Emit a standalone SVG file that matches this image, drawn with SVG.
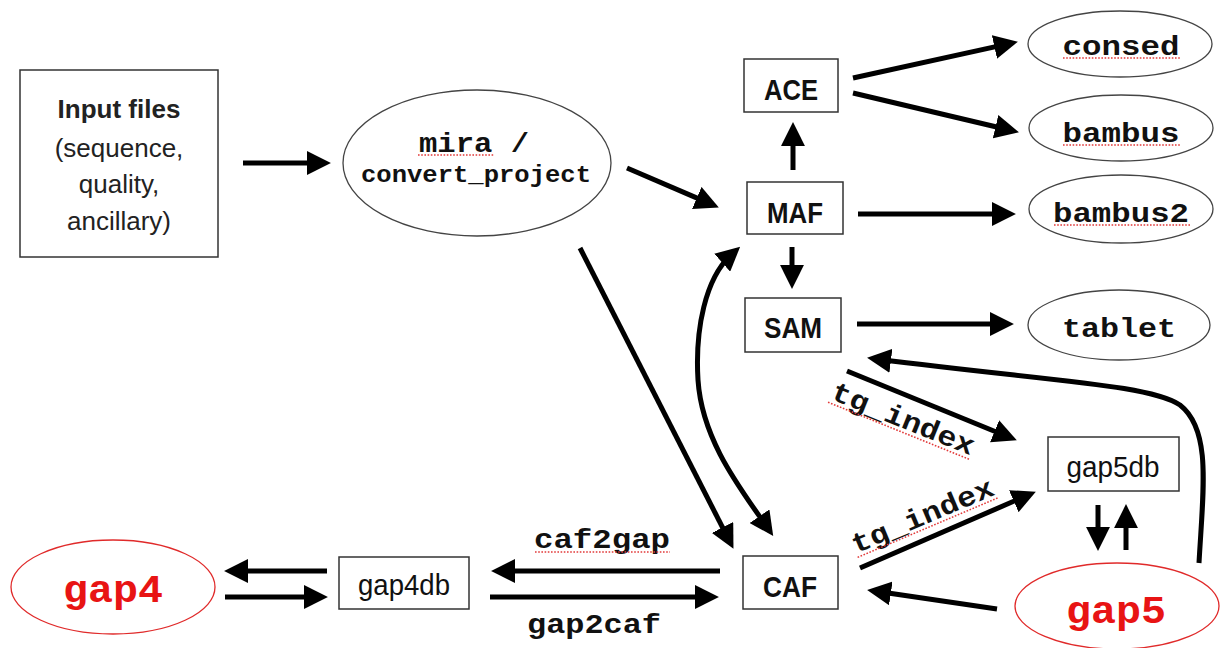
<svg xmlns="http://www.w3.org/2000/svg" width="1224" height="648" viewBox="0 0 1224 648">
<style>
.box{fill:#fff;stroke:#333;stroke-width:1.5}
.ell{fill:#fff;stroke:#444;stroke-width:1.3}
.ellr{fill:#fff;stroke:#e02a2a;stroke-width:1.3}
.lbl{font-family:"Liberation Sans",Arial,sans-serif;font-weight:bold;font-size:30px;fill:#111;text-anchor:middle}
.db{font-family:"Liberation Sans",Arial,sans-serif;font-size:29px;fill:#111;text-anchor:middle}
.inp{font-family:"Liberation Sans",Arial,sans-serif;font-size:26px;fill:#222;text-anchor:middle}
.mono{font-family:"Liberation Mono","Courier New",monospace;font-weight:bold;font-size:28px;fill:#111;text-anchor:middle}
.mira{font-size:27px}
.cp{font-size:23px}
.big{font-family:"Liberation Mono","Courier New",monospace;font-weight:bold;font-size:39px;fill:#e81414;text-anchor:middle}
.sq{stroke:#e23a3a;stroke-width:1.6;stroke-dasharray:1.6 1.6;fill:none}
.arr{stroke:#000;stroke-width:5;fill:none;marker-end:url(#ah)}
.arr2{stroke:#000;stroke-width:5;fill:none;marker-end:url(#ah);marker-start:url(#ah)}
</style>
<defs>
<marker id="ah" markerUnits="userSpaceOnUse" markerWidth="24" markerHeight="24" viewBox="0 0 22 22" refX="12" refY="11" orient="auto-start-reverse">
<path d="M0,0 L22,11 L0,22 z" fill="#000"/>
</marker>
</defs>
<rect width="1224" height="648" fill="#fff"/>

<g id="input">
<rect class="box" x="20" y="70" width="198" height="187"/>
<text class="inp" x="119" y="118" font-weight="bold">Input files</text>
<text class="inp" x="119" y="157">(sequence,</text>
<text class="inp" x="119" y="193">quality,</text>
<text class="inp" x="119" y="230">ancillary)</text>
</g>

<g id="mira">
<ellipse class="ell" cx="477" cy="163" rx="134" ry="73"/>
<text class="mono mira" x="474" y="152" textLength="110" lengthAdjust="spacingAndGlyphs">mira /</text>
<line class="sq" x1="418" y1="155" x2="494" y2="155"/>
<text class="mono cp" x="476" y="182" textLength="230" lengthAdjust="spacingAndGlyphs">convert_project</text>
</g>

<g id="ace"><rect class="box" x="744" y="59" width="94" height="53"/><text class="lbl" x="791" y="100" textLength="54" lengthAdjust="spacingAndGlyphs">ACE</text></g>
<g id="maf"><rect class="box" x="747" y="182" width="96" height="52"/><text class="lbl" x="795" y="223" textLength="56" lengthAdjust="spacingAndGlyphs">MAF</text></g>
<g id="sam"><rect class="box" x="745" y="298" width="96" height="54"/><text class="lbl" x="793" y="338" textLength="58" lengthAdjust="spacingAndGlyphs">SAM</text></g>
<g id="caf"><rect class="box" x="743" y="556" width="95" height="53"/><text class="lbl" x="790" y="597" textLength="54" lengthAdjust="spacingAndGlyphs">CAF</text></g>

<g id="consed"><ellipse class="ell" cx="1120" cy="44" rx="92" ry="33"/><text class="mono" x="1121" y="55" textLength="117" lengthAdjust="spacingAndGlyphs">consed</text><line class="sq" x1="1063" y1="58" x2="1180" y2="58"/></g>
<g id="bambus"><ellipse class="ell" cx="1121" cy="128" rx="92" ry="33"/><text class="mono" x="1121" y="142" textLength="117" lengthAdjust="spacingAndGlyphs">bambus</text><line class="sq" x1="1063" y1="145" x2="1180" y2="145"/></g>
<g id="bambus2"><ellipse class="ell" cx="1121" cy="209" rx="92" ry="34"/><text class="mono" x="1121" y="222" textLength="136" lengthAdjust="spacingAndGlyphs">bambus2</text><line class="sq" x1="1054" y1="225" x2="1190" y2="225"/></g>
<g id="tablet"><ellipse class="ell" cx="1119" cy="325" rx="91" ry="35"/><text class="mono" x="1119" y="337" textLength="114" lengthAdjust="spacingAndGlyphs">tablet</text></g>

<g id="gap5db"><rect class="box" x="1048" y="437" width="131" height="54"/><text class="db" x="1113" y="477" textLength="93" lengthAdjust="spacingAndGlyphs">gap5db</text></g>
<g id="gap4db"><rect class="box" x="339" y="557" width="130" height="52"/><text class="db" x="404" y="595" textLength="92" lengthAdjust="spacingAndGlyphs">gap4db</text></g>

<g id="gap4"><ellipse class="ellr" cx="113" cy="587" rx="102" ry="47"/><text class="big" x="113" y="602" textLength="100" lengthAdjust="spacingAndGlyphs">gap4</text></g>
<g id="gap5"><ellipse class="ellr" cx="1117" cy="606" rx="102" ry="43"/><text class="big" x="1116" y="623" textLength="100" lengthAdjust="spacingAndGlyphs">gap5</text></g>

<g id="connectors">
<line class="arr" x1="243" y1="163" x2="320" y2="163"/>
<line class="arr" x1="627" y1="168" x2="708.8" y2="203.1"/>
<line class="arr" x1="793" y1="170" x2="793" y2="133"/>
<line class="arr" x1="792" y1="247" x2="792" y2="278"/>
<line class="arr" x1="853" y1="78" x2="1007.2" y2="44.1"/>
<line class="arr" x1="853" y1="93" x2="1008.3" y2="129.7"/>
<line class="arr" x1="858" y1="214" x2="1005" y2="214"/>
<line class="arr" x1="857" y1="324" x2="1003" y2="324"/>
<line class="arr" x1="580" y1="248" x2="728.5" y2="539.1"/>
<path class="arr2" d="M732,254 C705,278 695,330 698,380 C702,440 740,488 767,527"/>
<line class="arr" x1="847" y1="371" x2="1006.7" y2="436.2"/>
<line class="arr" x1="860" y1="568" x2="1025.8" y2="496"/>
<line class="arr" x1="997" y1="609" x2="877.9" y2="591.5"/>
<path class="arr" d="M1199,563 C1203,490 1212,430 1180,405 C1150,385 1060,382 877.9,359.2"/>
<line class="arr" x1="1098" y1="505" x2="1098" y2="540"/>
<line class="arr" x1="1126" y1="550" x2="1126" y2="515"/>
<line class="arr" x1="720" y1="571" x2="502" y2="571"/>
<line class="arr" x1="490" y1="597" x2="708" y2="597"/>
<line class="arr" x1="327" y1="571" x2="235" y2="571"/>
<line class="arr" x1="225" y1="597" x2="317" y2="597"/>
<text class="mono" x="602" y="548" textLength="136" lengthAdjust="spacingAndGlyphs">caf2gap</text>
<line class="sq" x1="535" y1="552" x2="670" y2="552"/>
<text class="mono" x="594" y="633" textLength="134" lengthAdjust="spacingAndGlyphs">gap2caf</text>
<g transform="translate(900,427) rotate(22)"><text class="mono" x="0" y="0" textLength="152" lengthAdjust="spacingAndGlyphs">tg_index</text><line class="sq" x1="-76" y1="4" x2="76" y2="4"/></g>
<g transform="translate(926,524) rotate(-23)"><text class="mono" x="0" y="0" textLength="152" lengthAdjust="spacingAndGlyphs">tg_index</text><line class="sq" x1="-76" y1="4" x2="76" y2="4"/></g>
</g>
</svg>
